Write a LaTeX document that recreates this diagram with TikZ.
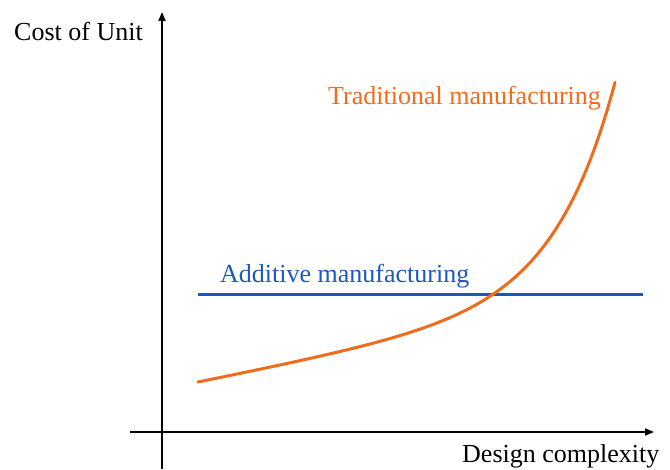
\documentclass[tikz,border=0pt]{standalone}
\usepackage{fontspec}
\setmainfont{Liberation Serif}
\usetikzlibrary{arrows.meta}
\definecolor{tradorange}{RGB}{240,108,28}
\definecolor{addblue}{RGB}{28,88,190}
\tikzset{
  axis/.style={line width=2pt,-{Triangle[length=9pt,width=7pt]}},
  lbl/.style={inner sep=0pt,anchor=base west,font=\fontsize{26}{30}\selectfont},
  tradline/.style={tradorange,line width=3pt},
  addline/.style={addblue,line width=3pt}
}
\begin{document}
\begin{tikzpicture}[x=1pt,y=-1pt]
\useasboundingbox (0,0) rectangle (670,470);
% axes
\coordinate (yb) at (162,469);
\coordinate (yt) at (162,12);
\coordinate (xl) at (130,432);
\coordinate (xr) at (654,432);
\draw[axis] (yb) -- (yt);
\draw[axis] (xl) -- (xr);
% labels
\node[lbl,text=black] (ylab) at (14,40.5) {Cost of Unit};
\node[lbl,text=black] (xlab) at (462,462.5) {Design complexity};
\node[lbl,text=addblue] (alab) at (220,282.5) {Additive manufacturing};
\node[lbl,text=tradorange] (tlab) at (328,105) {Traditional manufacturing};
% additive line
\coordinate (a1) at (198,294.5);
\coordinate (a2) at (643,294.5);
\draw[addline] (a1) -- (a2);
% traditional curve
\draw[tradline,line cap=round] plot[domain=0:417,samples=120,variable=\t]
  ({198+\t},{382-0.2*\t-0.223*(exp(0.0165*\t)-1)});
\end{tikzpicture}
\end{document}
